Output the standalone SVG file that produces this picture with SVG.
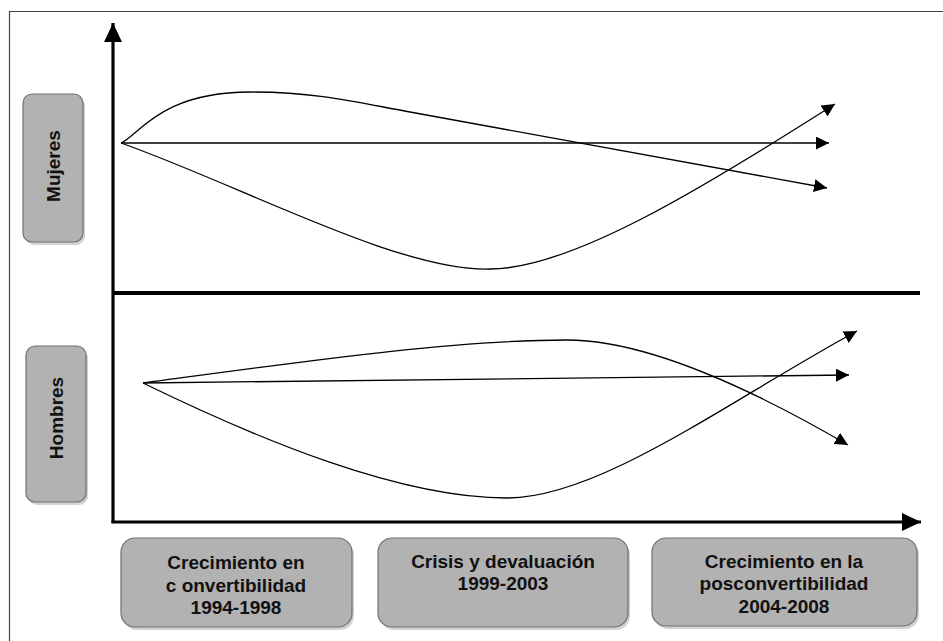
<svg xmlns="http://www.w3.org/2000/svg" width="943" height="641" viewBox="0 0 943 641">
<style>
.box{fill:#b2b2b2;stroke:#707070;stroke-width:1.2}
.shadow{fill:#d2d2d2;stroke:none}
.lbl{font-family:"Liberation Sans",Arial,Helvetica,sans-serif;font-weight:bold;font-size:19px;fill:#111;text-anchor:middle}
.thin{fill:none;stroke:#000;stroke-width:1.3}
.axis{fill:none;stroke:#000;stroke-width:3.2}
</style>
<defs>
<marker id="ah" markerUnits="userSpaceOnUse" markerWidth="13" markerHeight="13" refX="12" refY="6" orient="auto" viewBox="0 0 12 12">
<path d="M0,0 L12,6 L0,12 z" fill="#000"/>
</marker>
<marker id="axh" markerUnits="userSpaceOnUse" markerWidth="19" markerHeight="18" refX="18" refY="8.5" orient="auto" viewBox="0 0 18 17">
<path d="M0,0 L18,8.5 L0,17 z" fill="#000"/>
</marker>
</defs>
<rect x="0" y="0" width="943" height="641" fill="#fff"/>
<path d="M9.5,641 V11.5 H943" fill="none" stroke="#444" stroke-width="1.2"/>

<g id="node-mujeres">
<rect class="shadow" x="25" y="97" width="60" height="148" rx="9"/>
<rect class="box" x="23" y="94" width="60" height="148" rx="9"/>
<text class="lbl" transform="translate(60,166) rotate(-90)">Mujeres</text>
</g>
<g id="node-hombres">
<rect class="shadow" x="28" y="349" width="60" height="156" rx="9"/>
<rect class="box" x="26" y="346" width="60" height="156" rx="9"/>
<text class="lbl" transform="translate(63,418) rotate(-90)">Hombres</text>
</g>
<g id="node-periodo1">
<rect class="shadow" x="123" y="541" width="231" height="89" rx="14"/>
<rect class="box" x="121" y="538" width="231" height="89" rx="14"/>
<text class="lbl" x="236" y="569">Crecimiento en</text>
<text class="lbl" x="236" y="592">c onvertibilidad</text>
<text class="lbl" x="236" y="614">1994-1998</text>
</g>
<g id="node-periodo2">
<rect class="shadow" x="380" y="541" width="250" height="89" rx="14"/>
<rect class="box" x="378" y="538" width="250" height="89" rx="14"/>
<text class="lbl" x="503" y="568">Crisis y devaluación</text>
<text class="lbl" x="503" y="590">1999-2003</text>
</g>
<g id="node-periodo3">
<rect class="shadow" x="654" y="541" width="265" height="88" rx="14"/>
<rect class="box" x="652" y="538" width="265" height="88" rx="14"/>
<text class="lbl" x="784" y="568">Crecimiento en la</text>
<text class="lbl" x="784" y="590">posconvertibilidad</text>
<text class="lbl" x="784" y="613">2004-2008</text>
</g>

<g id="connectors">
<path class="axis" d="M113,523 V23" marker-end="url(#axh)"/>
<path class="axis" d="M111.5,522 H921" marker-end="url(#axh)"/>
<path d="M113,293 H920" fill="none" stroke="#000" stroke-width="4"/>

<path class="thin" d="M121,143 H829" marker-end="url(#ah)"/>
<path class="thin" d="M121,143 C138,136 160,92 250,92 C320,92 360,103 410,112 L827,188" marker-end="url(#ah)"/>
<path class="thin" d="M121,143 C240,185 400,272 490,269 C570,269 700,190 835,104" marker-end="url(#ah)"/>

<path class="thin" d="M143,383 L849,375" marker-end="url(#ah)"/>
<path class="thin" d="M143,383 C300,362 450,340 567,340 C640,340 740,382 848,445" marker-end="url(#ah)"/>
<path class="thin" d="M143,383 C260,440 400,498 507,498 C600,498 730,400 857,331" marker-end="url(#ah)"/>
</g>
</svg>
